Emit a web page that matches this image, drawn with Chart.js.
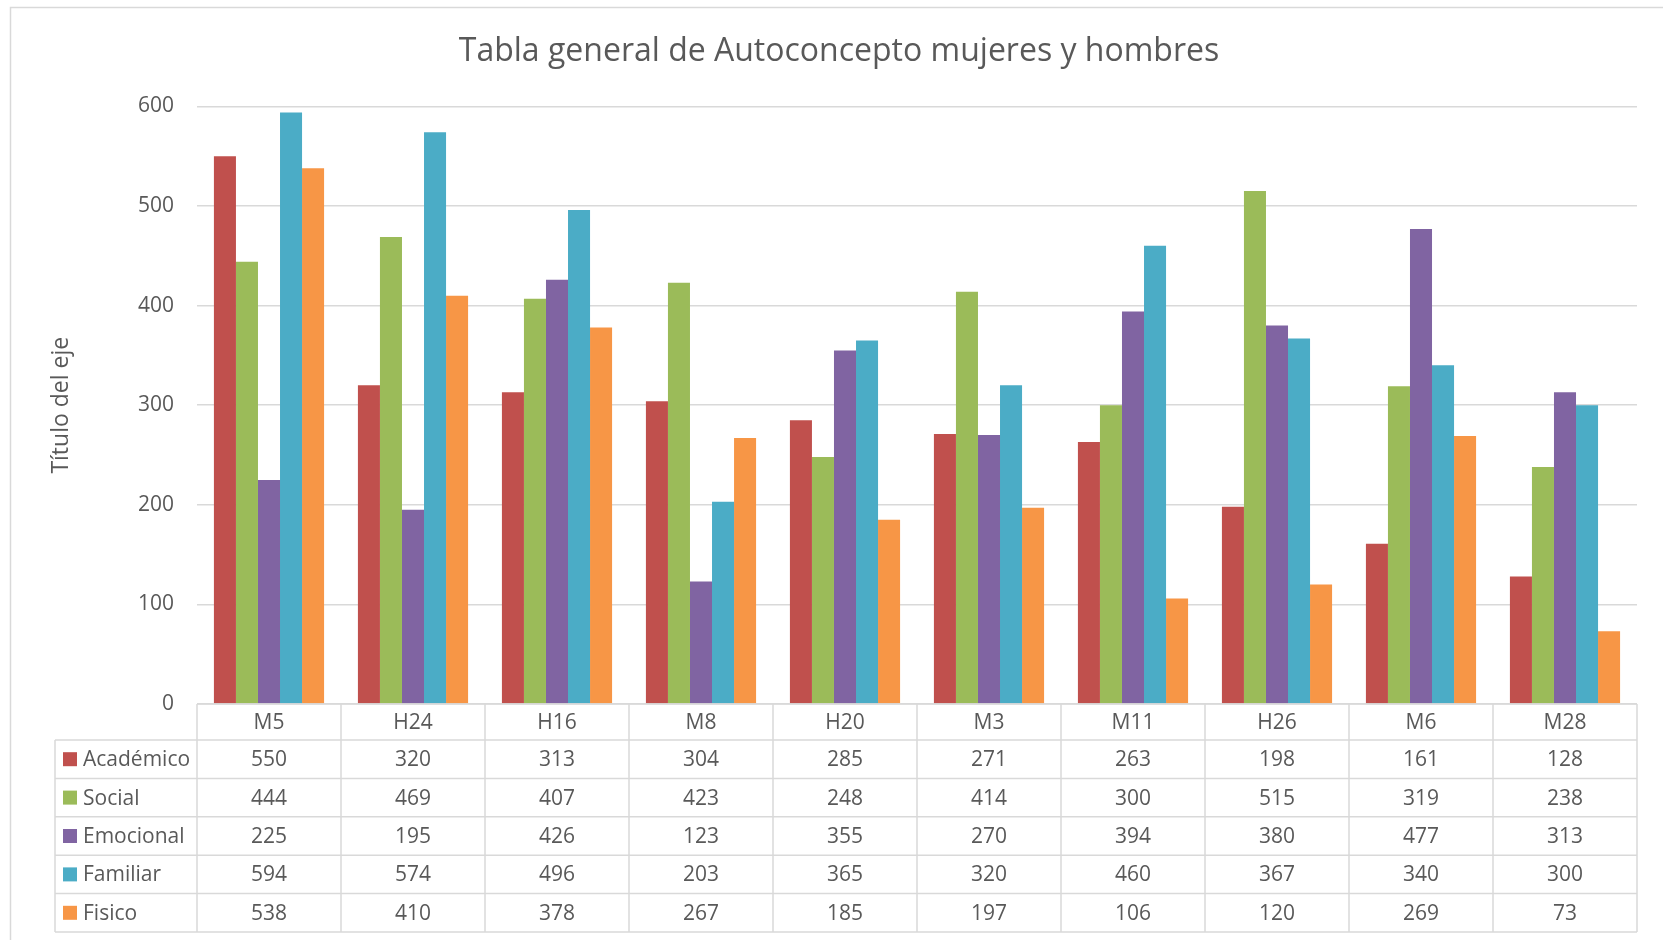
<!DOCTYPE html>
<html>
<head>
<meta charset="utf-8">
<title>Tabla general de Autoconcepto</title>
<script src="https://cdn.jsdelivr.net/npm/chart.js@4.4.0/dist/chart.umd.min.js"></script>
<style>
  html, body { margin: 0; padding: 0; background: #fff; }
  #wrap { width: 1663px; height: 940px; position: relative; }
</style>
</head>
<body>
<div id="wrap"><canvas id="auto-chart"></canvas></div>
<script>
/* ---- data ---- */
const CATEGORIES = ["M5", "H24", "H16", "M8", "H20", "M3", "M11", "H26", "M6", "M28"];
const ACADEMICO = [550, 320, 313, 304, 285, 271, 263, 198, 161, 128];
const SOCIAL    = [444, 469, 407, 423, 248, 414, 300, 515, 319, 238];
const EMOCIONAL = [225, 195, 426, 123, 355, 270, 394, 380, 477, 313];
const FAMILIAR  = [594, 574, 496, 203, 365, 320, 460, 367, 340, 300];
const FISICO    = [538, 410, 378, 267, 185, 197, 106, 120, 269, 73];
const Y_TICKS   = [0, 100, 200, 300, 400, 500, 600];

const SERIES = [
  { label: "Académico", data: ACADEMICO, color: "#C0504D" },
  { label: "Social",    data: SOCIAL,    color: "#9BBB59" },
  { label: "Emocional", data: EMOCIONAL, color: "#8064A2" },
  { label: "Familiar",  data: FAMILIAR,  color: "#4BACC6" },
  { label: "Fisico",    data: FISICO,    color: "#F79646" },
];

const FONT = "'Open Sans', 'Noto Sans', sans-serif";
const TEXT = "#595959";
const LINE = "#D9D9D9";

// outer frame of the chart object
const framePlugin = {
  id: "frame",
  beforeDraw(chart){
    const ctx = chart.ctx;
    ctx.save();
    ctx.fillStyle = "#fff";
    ctx.fillRect(0, 0, chart.width, chart.height);
    ctx.strokeStyle = LINE;
    ctx.lineWidth = 1.5;
    ctx.strokeRect(10.5, 7.5, chart.width + 20, chart.height + 20);
    ctx.restore();
  }
};

// data table under the plot, columns follow the x scale
const tablePlugin = {
  id: "dataTable",
  afterDraw(chart){
    const ctx = chart.ctx;
    const xs = chart.scales.x;
    const area = chart.chartArea;
    const colW = xs.getPixelForValue(1) - xs.getPixelForValue(0);
    const left = xs.getPixelForValue(0) - colW / 2;
    const right = xs.getPixelForValue(CATEGORIES.length - 1) + colW / 2;
    const legendLeft = 55;
    const headTop = area.bottom;
    const headH = 36;
    const rowH = 38.4;
    const bodyTop = headTop + headH;
    const bottom = bodyTop + rowH * SERIES.length;

    ctx.save();
    ctx.strokeStyle = LINE;
    ctx.lineWidth = 1.5;
    ctx.beginPath();
    ctx.moveTo(left, headTop); ctx.lineTo(right, headTop);
    for(let r = 0; r <= SERIES.length; r++){
      const y = bodyTop + r * rowH;
      ctx.moveTo(legendLeft, y); ctx.lineTo(right, y);
    }
    for(let c = 0; c <= CATEGORIES.length; c++){
      const x = left + c * colW;
      ctx.moveTo(x, headTop); ctx.lineTo(x, bottom);
    }
    ctx.moveTo(legendLeft, bodyTop); ctx.lineTo(legendLeft, bottom);
    ctx.stroke();

    ctx.fillStyle = TEXT;
    ctx.font = "21px " + FONT;
    ctx.textBaseline = "middle";
    ctx.textAlign = "center";
    CATEGORIES.forEach((c, i) => {
      ctx.fillText(c, xs.getPixelForValue(i), headTop + headH / 2 + 1);
    });

    SERIES.forEach((s, r) => {
      const yMid = bodyTop + r * rowH + rowH / 2 + 1;
      ctx.fillStyle = s.color;
      ctx.fillRect(63, yMid - 8, 14, 14);
      ctx.fillStyle = TEXT;
      ctx.textAlign = "left";
      ctx.fillText(s.label, 83, yMid);
      ctx.textAlign = "center";
      s.data.forEach((v, i) => {
        ctx.fillText(String(v), xs.getPixelForValue(i), yMid);
      });
    });
    ctx.restore();
  }
};

new Chart(document.getElementById("auto-chart"), {
  type: "bar",
  data: {
    labels: CATEGORIES,
    datasets: SERIES.map(s => ({
      label: s.label,
      data: s.data,
      backgroundColor: s.color,
      borderWidth: 0,
      categoryPercentage: 0.765,
      barPercentage: 1
    }))
  },
  options: {
    responsive: true,
    maintainAspectRatio: false,
    animation: false,
    layout: { padding: { left: 41, right: 26, top: 0, bottom: 236 } },
    plugins: {
      legend: { display: false },
      tooltip: { enabled: false },
      title: {
        display: true,
        text: "Tabla general de Autoconcepto mujeres y hombres",
        color: TEXT,
        font: { family: FONT, size: 32, weight: "normal", lineHeight: 1.2 },
        padding: { top: 33, bottom: 35 }
      }
    },
    scales: {
      x: { display: false },
      y: {
        min: 0,
        max: 600,
        afterBuildTicks(scale){ scale.ticks = Y_TICKS.map(v => ({ value: v })); },
        afterFit(scale){ scale.width = 156; },
        ticks: { color: TEXT, padding: 23, font: { family: FONT, size: 21 } },
        grid: { color: LINE, lineWidth: 1.5, drawTicks: false },
        border: { display: false },
        title: {
          display: true,
          text: "Título del eje",
          color: TEXT,
          font: { family: FONT, size: 23, lineHeight: 1.2 },
          padding: { top: 7, bottom: 0 }
        }
      }
    }
  },
  plugins: [framePlugin, tablePlugin]
});
</script>
</body>
</html>
